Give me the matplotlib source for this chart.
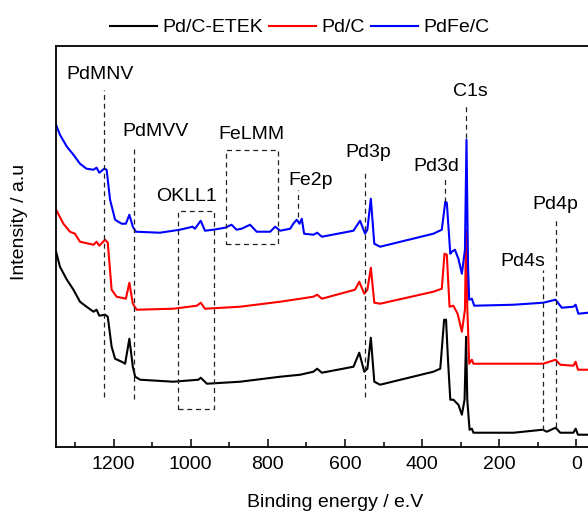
import numpy as np
import matplotlib
matplotlib.use("Agg")
import matplotlib.pyplot as plt
from matplotlib.ticker import MultipleLocator

plt.rcParams['font.family'] = ['Liberation Sans', 'DejaVu Sans']

# XPS survey spectra, binding energy (eV) and intensity (a.u., offset)
be_etek = [1349, 1339, 1321, 1304, 1287, 1270, 1252, 1244, 1237, 1222, 1215, 1205, 1196,
           1179, 1170, 1159, 1150, 1144, 1131, 1045, 980, 974, 958, 872, 768, 716, 682,
           672, 660, 578, 563, 550, 542, 533, 524, 509, 371, 353, 343, 338, 333, 327,
           319, 306, 297, 290, 286, 283, 277, 271, 267, 163, 87, 77, 54, 42, 8, 2, -4, -30]
i_etek = [195, 180, 167, 157, 145, 140, 135, 137, 131, 132, 130, 100, 88,
          85, 83, 108, 80, 70, 67, 65, 67, 69, 63, 65, 70, 72, 75,
          78, 74, 80, 94, 75, 78, 109, 65, 62, 75, 78, 127, 127, 87, 47,
          47, 42, 32, 47, 110, 47, 17, 18, 14, 14, 17, 15, 19, 14, 14, 18, 12, 12]

be_pdc = [1349, 1330, 1313, 1300, 1287, 1252, 1244, 1237, 1222, 1215, 1205, 1192, 1168,
          1159, 1150, 1140, 1045, 984, 974, 963, 872, 768, 716, 682, 672, 660, 574,
          563, 550, 542, 533, 524, 509, 371, 349, 342, 336, 329, 319, 308, 297, 289,
          286, 283, 278, 271, 267, 163, 86, 54, 42, 8, 2, -4, -30]
i_pdc = [237, 223, 215, 213, 205, 202, 205, 201, 207, 204, 157, 150, 148,
         164, 143, 137, 138, 141, 144, 138, 140, 145, 148, 150, 152, 148, 157,
         165, 153, 157, 179, 144, 143, 155, 158, 193, 192, 140, 141, 133, 115, 137,
         217, 140, 83, 87, 83, 83, 83, 87, 82, 81, 85, 77, 77]

be_pdfe = [1349, 1339, 1321, 1304, 1287, 1270, 1252, 1244, 1237, 1224, 1218, 1209, 1196,
           1179, 1168, 1159, 1150, 1142, 1080, 1028, 995, 989, 974, 963, 941, 911, 894,
           881, 868, 846, 829, 794, 781, 768, 742, 734, 725, 718, 712, 706, 682, 672,
           660, 578, 561, 548, 542, 533, 524, 509, 371, 349, 340, 336, 327, 323, 315,
           306, 297, 289, 285, 281, 278, 271, 265, 163, 86, 54, 38, 8, 2, -5, -30]
i_pdfe = [322, 312, 300, 292, 283, 278, 277, 279, 274, 278, 277, 247, 227,
          223, 223, 232, 220, 215, 214, 217, 220, 218, 226, 216, 217, 219, 222,
          217, 218, 222, 215, 215, 220, 216, 218, 223, 227, 223, 228, 213, 212, 214,
          210, 216, 226, 213, 217, 248, 203, 200, 213, 217, 245, 244, 193, 195, 197,
          188, 173, 197, 307, 180, 147, 148, 141, 142, 144, 147, 139, 140, 142, 133, 134]

series = ['Pd/C-ETEK', 'Pd/C', 'PdFe/C']
colors = ['black', 'red', 'blue']

fig = plt.figure(figsize=(5.88, 5.12), dpi=100)
ax = fig.add_axes([0.0947, 0.1275, 0.9053, 0.7832])

for be, inten, name, c in zip([be_etek, be_pdc, be_pdfe], [i_etek, i_pdc, i_pdfe], series, colors):
    ax.plot(be, inten, color=c, lw=1.5, label=name)

ax.set_xlim(1350, -30)
ax.set_ylim(0, 401)
ax.xaxis.set_major_locator(MultipleLocator(200))
ax.xaxis.set_minor_locator(MultipleLocator(100))
ax.tick_params(axis='x', which='major', direction='in', length=6, width=1.1, labelsize=14, pad=7)
ax.tick_params(axis='x', which='minor', direction='in', length=3.5, width=1.1)
ax.set_yticks([])
for s in ['left', 'bottom', 'top']:
    ax.spines[s].set_linewidth(1.3)
ax.spines['right'].set_visible(False)

ax.set_xlabel('Binding energy / e.V', fontsize=14)
ax.xaxis.set_label_coords(0.525, -0.118)
ax.set_ylabel('Intensity / a.u', fontsize=14)
ax.yaxis.set_label_coords(-0.052, 0.56)

# peak markers
dash = dict(color='#222222', lw=0.9, ls=(0, (4, 3)))
ax.plot([1224, 1224], [50, 357], **dash)
ax.plot([1146, 1146], [48, 301], **dash)
ax.plot([722, 722], [230, 257], **dash)
ax.plot([547, 547], [50, 277], **dash)
ax.plot([340, 340], [245, 270], **dash)
ax.plot([287, 287], [309, 344], **dash)
ax.plot([86, 86], [17, 177], **dash)
ax.plot([54, 54], [20, 229], **dash)
ax.plot([1032, 940, 940, 1032, 1032], [38, 38, 236, 236, 38], **dash)
ax.plot([909, 773, 773, 909, 909], [203, 203, 297, 297, 203], **dash)

lab = dict(fontsize=14, ha='center', va='center')
ax.text(1235, 372, 'PdMNV', **lab)
ax.text(1092, 315, 'PdMVV', **lab)
ax.text(1010, 250, 'OKLL1', **lab)
ax.text(843, 312, 'FeLMM', **lab)
ax.text(690, 266, 'Fe2p', **lab)
ax.text(540, 294, 'Pd3p', **lab)
ax.text(364, 280, 'Pd3d', **lab)
ax.text(276, 355, 'C1s', **lab)
ax.text(138, 185, 'Pd4s', **lab)
ax.text(55, 242, 'Pd4p', **lab)

fig.legend(loc='center', bbox_to_anchor=(0.51, 0.946), ncol=3, frameon=False, fontsize=14,
           handlelength=2.4, handletextpad=0.3, columnspacing=0.3, borderaxespad=0)

fig.savefig('out.png', dpi=100)
